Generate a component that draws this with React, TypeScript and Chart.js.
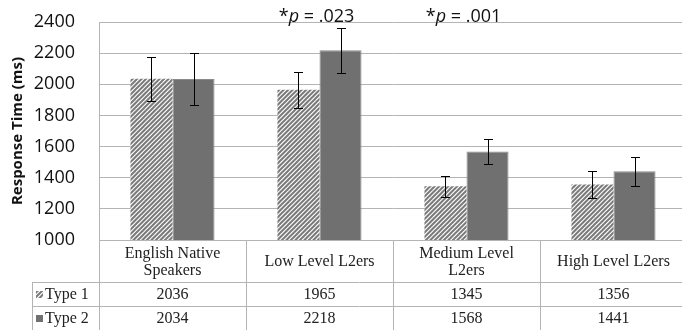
import React, { useEffect, useRef } from 'react';
import { Chart, registerables } from 'chart.js';

Chart.register(...registerables);

const categories: string[][] = [
  ['English Native', 'Speakers'],
  ['Low Level L2ers'],
  ['Medium Level', 'L2ers'],
  ['High Level L2ers'],
];
const seriesNames = ['Type 1', 'Type 2'];
const type1 = [2036, 1965, 1345, 1356];
const type2 = [2034, 2218, 1568, 1441];
const type1Err = [142, 117, 67, 85];
const type2Err = [164, 146, 83, 93];
const pLabels = ['', '.023', '.001', ''];
const yMin = 1000;
const yMax = 2400;
const yStep = 200;

const LINE = '#b4b4b4';
const DARK = '#707070';

function makeHatch(ctx: CanvasRenderingContext2D): CanvasPattern | string {
  const s = 9;
  const c = document.createElement('canvas');
  c.width = s;
  c.height = s;
  const g = c.getContext('2d');
  if (!g) return '#999';
  g.fillStyle = '#ffffff';
  g.fillRect(0, 0, s, s);
  g.strokeStyle = '#7a7a7a';
  g.lineWidth = 2;
  for (let k = -1; k <= 5; k++) {
    const cc = k * 4.5;
    g.beginPath();
    g.moveTo(cc - s - 2, s + 2);
    g.lineTo(cc + 2, -2);
    g.stroke();
  }
  return ctx.createPattern(c, 'repeat') || '#999';
}

export default function App() {
  const ref = useRef<HTMLCanvasElement | null>(null);

  useEffect(() => {
    document.body.style.margin = '0';
    const canvas = ref.current;
    if (!canvas) return;
    const ctx = canvas.getContext('2d');
    if (!ctx) return;
    const hatch = makeHatch(ctx);

    const errs = [type1Err, type2Err];

    const tablePlugin = {
      id: 'tableAndErrors',
      afterDatasetsDraw(chart: any) {
        const c = chart.ctx as CanvasRenderingContext2D;
        const y = chart.scales.y;
        c.save();
        c.strokeStyle = '#000';
        c.lineWidth = 1;
        chart.data.datasets.forEach((ds: any, di: number) => {
          const meta = chart.getDatasetMeta(di);
          meta.data.forEach((bar: any, i: number) => {
            const v = ds.data[i];
            const e = errs[di][i];
            const x = Math.round(bar.x) + 0.5;
            const yt = Math.round(y.getPixelForValue(v + e)) + 0.5;
            const yb = Math.round(y.getPixelForValue(v - e)) + 0.5;
            c.beginPath();
            c.moveTo(x, yt);
            c.lineTo(x, yb);
            c.moveTo(x - 4.5, yt);
            c.lineTo(x + 4.5, yt);
            c.moveTo(x - 4.5, yb);
            c.lineTo(x + 4.5, yb);
            c.stroke();
          });
        });
        c.restore();
      },
      afterDraw(chart: any) {
        const c = chart.ctx as CanvasRenderingContext2D;
        const xs = chart.scales.x;
        const area = chart.chartArea;
        const n = categories.length;
        const catW = (area.right - area.left) / n;
        const top = area.bottom;
        const row1 = top + 42;
        const row2 = row1 + 24;
        const bottom = chart.height;
        const legLeft = 32;
        c.save();
        c.strokeStyle = LINE;
        c.lineWidth = 1;
        c.beginPath();
        for (let i = 0; i <= n; i++) {
          const x = Math.round(area.left + i * catW) + 0.5;
          c.moveTo(x, i === 0 ? area.top : top);
          c.lineTo(x, bottom);
        }
        c.moveTo(legLeft + 0.5, row1);
        c.lineTo(legLeft + 0.5, bottom);
        c.moveTo(area.left, top + 0.5);
        c.lineTo(area.right, top + 0.5);
        c.moveTo(legLeft, row1 + 0.5);
        c.lineTo(area.right, row1 + 0.5);
        c.moveTo(legLeft, row2 + 0.5);
        c.lineTo(area.right, row2 + 0.5);
        c.stroke();

        c.fillStyle = '#222';
        c.font = '16px "Liberation Serif", serif';
        c.textAlign = 'center';
        c.textBaseline = 'middle';
        categories.forEach((lines, i) => {
          const cx = xs.getPixelForValue(i);
          const mid = (top + row1) / 2 + 1;
          const lh = 17;
          lines.forEach((ln, li) => {
            const yy = mid + (li - (lines.length - 1) / 2) * lh;
            c.fillText(ln, cx, yy);
          });
        });
        const rows = [type1, type2];
        rows.forEach((vals, ri) => {
          const yy = (ri === 0 ? (row1 + row2) / 2 : (row2 + row2 + 24) / 2) + 1;
          vals.forEach((v, i) => {
            c.fillText(String(v), xs.getPixelForValue(i), yy);
          });
          c.textAlign = 'left';
          c.fillText(seriesNames[ri], 45, yy);
          c.textAlign = 'center';
          c.fillStyle = ri === 0 ? (hatch as any) : DARK;
          c.fillRect(36, yy - 4, 7, 7);
          c.fillStyle = '#222';
        });

        c.textBaseline = 'alphabetic';
        c.fillStyle = '#111';
        pLabels.forEach((p, i) => {
          if (!p) return;
          const f = '18px "Open Sans", sans-serif';
          const fi = 'italic 18px "Open Sans", sans-serif';
          const parts: [string, string][] = [['*', f], ['p', fi], [' = ' + p, f]];
          let w = 0;
          parts.forEach(([t, ff]) => {
            c.font = ff;
            w += c.measureText(t).width;
          });
          let x = xs.getPixelForValue(i) - 3 - w / 2;
          c.textAlign = 'left';
          parts.forEach(([t, ff]) => {
            c.font = ff;
            c.fillText(t, x, 22);
            x += c.measureText(t).width;
          });
        });
        c.restore();
      },
    };

    const chart = new Chart(canvas, {
      type: 'bar',
      data: {
        labels: categories.map((l) => l.join(' ')),
        datasets: [
          {
            label: seriesNames[0],
            data: type1,
            backgroundColor: hatch as any,
            borderWidth: 0,
          },
          {
            label: seriesNames[1],
            data: type2,
            backgroundColor: DARK,
            borderColor: '#8a8a8a',
            borderWidth: 1,
          },
        ],
      },
      options: {
        responsive: false,
        animation: false,
        devicePixelRatio: 1,
        layout: { padding: { top: 22, bottom: 90, left: 0, right: 3 } },
        datasets: {
          bar: { categoryPercentage: 0.572, barPercentage: 1.0 },
        },
        plugins: {
          legend: { display: false },
          tooltip: { enabled: false },
        },
        scales: {
          x: { display: false },
          y: {
            min: yMin,
            max: yMax,
            ticks: {
              stepSize: yStep,
              padding: 24,
              color: '#111',
              font: { family: '"Open Sans", sans-serif', size: 18 },
              callback: (v: any) => String(v),
            },
            grid: { color: LINE, drawTicks: false },
            border: { display: true, color: LINE },
            title: {
              display: true,
              text: 'Response Time (ms)',
              color: '#111',
              font: { family: '"Open Sans", sans-serif', size: 15, weight: 'bold' },
              padding: { top: 9, bottom: 0 },
            },
            afterFit(scale: any) {
              scale.width = 99;
              scale.paddingTop = 0;
              scale.paddingBottom = 0;
            },
          },
        },
      },
      plugins: [tablePlugin],
    });
    return () => chart.destroy();
  }, []);

  return (
    <div style={{ position: 'fixed', left: 0, top: 0, width: 682, height: 330, overflow: 'hidden', background: '#fff' }}>
      <canvas ref={ref} width={690} height={330} style={{ display: 'block', width: 690, height: 330 }} />
    </div>
  );
}
